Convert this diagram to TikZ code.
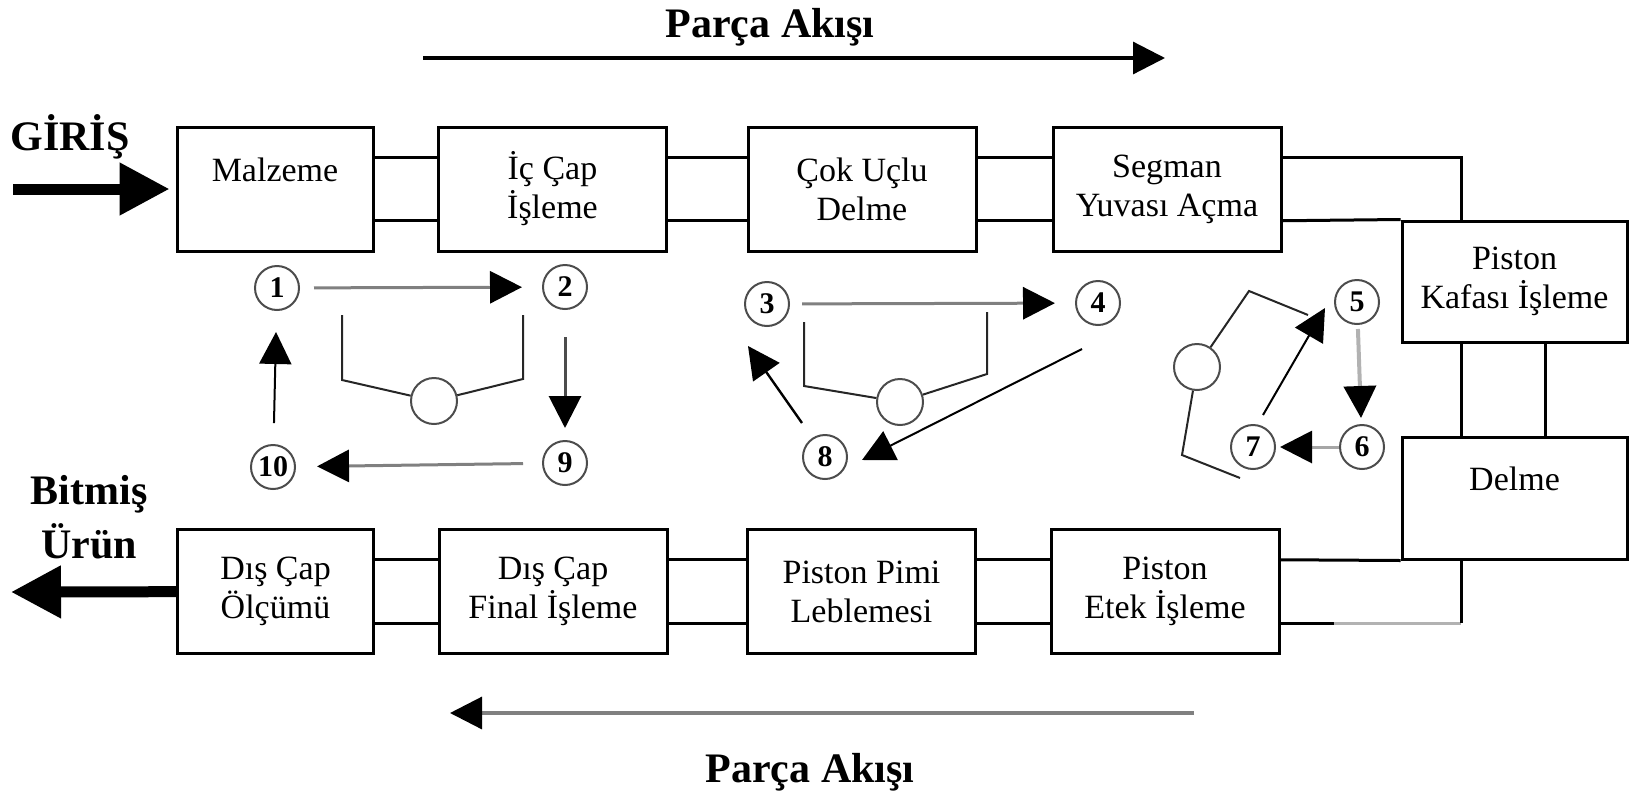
\documentclass[tikz,border=0pt]{standalone}
\usepackage{fontspec}
\setmainfont{Liberation Serif}
\usetikzlibrary{arrows.meta,calc}

\tikzset{
  procbox/.style={draw, line width=1.5pt, minimum width=114pt, minimum height=62pt,
    inner sep=0pt, align=center, font=\fontsize{17}{19.5}\selectfont},
  stn/.style={circle, draw=black!70, line width=1pt, minimum size=22pt, inner sep=0pt,
    font=\fontsize{15}{15}\selectfont\bfseries},
  hub/.style={circle, draw=black!70, line width=1pt, minimum size=23pt, inner sep=0pt},
  link/.style={line width=1.5pt},
  bracket/.style={line width=1pt, black!85},
  flow/.style={line width=1.5pt, gray, -{Triangle[length=16pt,width=16pt,color=black]}},
  bigarrow/.style={line width=5.5pt, -{Triangle[length=25pt,width=25pt]}},
  title/.style={font=\fontsize{21}{27}\selectfont\bfseries, inner sep=0pt},
}

\begin{document}
\begin{tikzpicture}[x=0.5pt, y=-0.5pt]
  \useasboundingbox (0,0) rectangle (1632,793);

  % top row of stations
  \node[procbox, minimum width=98pt] (malz) at (275,189) {Malzeme\\~};
  \node[procbox] (ic)   at (552.5,189) {İç Çap\\İşleme};
  \node[procbox] (cok)  at (862,189)   {Çok Uçlu\\Delme};
  \node[procbox] (seg)  at (1167,189)  {Segman\\Yuvası Açma};
  % right column
  \node[procbox, minimum width=112.5pt, minimum height=60.5pt] (kafa) at (1514.5,281.5) {Piston\\Kafası İşleme};
  \node[procbox, minimum width=112.5pt, minimum height=61pt] (delme) at (1514.5,498) {Delme\\~};
  % bottom row
  \node[procbox, minimum width=98pt] (olc) at (275.5,591.5) {Dış Çap\\Ölçümü};
  \node[procbox] (fin)  at (553,591.5)  {Dış Çap\\Final İşleme};
  \node[procbox] (pim)  at (861.5,591.5) {Piston Pimi\\Leblemesi};
  \node[procbox] (etek) at (1165,591.5) {Piston\\Etek İşleme};

  % double links between neighbouring boxes
  \foreach \a/\b in {malz/ic, ic/cok, cok/seg, olc/fin, fin/pim, pim/etek}
    \foreach \f in {.25,.75}
      \draw[link] ($(\a.north east)!\f!(\a.south east)$) -- ($(\b.north west)!\f!(\b.south west)$);

  % links round the corner on the right
  \coordinate (kt) at ($(kafa.north west)!.267!(kafa.north east)$);
  \draw[link] ($(seg.north east)!.25!(seg.south east)$) -| (kt);
  \draw[link] ($(seg.north east)!.75!(seg.south east)$) -- (kafa.north west);
  \foreach \f in {.267,.636}
    \draw[link] ($(kafa.south west)!\f!(kafa.south east)$) -- ($(delme.north west)!\f!(delme.north east)$);
  \coordinate (db) at ($(delme.south west)!.267!(delme.south east)$);
  \coordinate (eb) at ($(etek.north east)!.75!(etek.south east)$);
  \draw[link] ($(etek.north east)!.25!(etek.south east)$) -- (delme.south west);
  \draw[link] (eb) -- ++(53,0);
  \draw[link, gray!60] ($(eb)+(53,0)$) -- (eb -| db);
  \draw[link] (eb -| db) -- (db);

  % entry and exit
  \node[title, anchor=base] (giris) at (70,150) {GİRİŞ};
  \coordinate (gin) at (13,189);
  \draw[bigarrow, shorten >=3pt] (gin) -- (malz);
  \node[title, align=center] (bitmis) at (89,517) {Bitmiş\\Ürün};
  \coordinate (gout) at (11,592);
  \draw[bigarrow] (olc) -- (gout);

  % part flow arrows
  \node[title, anchor=base] (akis1) at (770,37) {Parça Akışı};
  \coordinate (ft1) at (423,58);
  \coordinate (ft2) at (1165,58);
  \draw[line width=1.6pt, -{Triangle[length=16pt,width=16pt]}] (ft1) -- (ft2);
  \node[title, anchor=base] (akis2) at (810,782) {Parça Akışı};
  \coordinate (fb1) at (1194,713);
  \coordinate (fb2) at (450,713);
  \draw[line width=1.6pt, gray, -{Triangle[length=16pt,width=16pt,color=black]}] (fb1) -- (fb2);

  % loop 1
  \node[stn] (c1)  at (277,288) {1};
  \node[stn] (c2)  at (565,287) {2};
  \node[stn] (c9)  at (565,463) {9};
  \node[stn] (c10) at (273,467) {10};
  \node[hub] (h1)  at (434,401) {};
  \draw[flow, shorten <=7pt, shorten >=10pt] (c1) -- (c2);
  \draw[flow, gray!60!black, shorten <=13.5pt, shorten >=6pt] (c2) -- (c9);
  \draw[flow, shorten <=9.5pt, shorten >=10.5pt] (c9) -- (c10);
  \draw[flow, black, line width=1pt, shorten <=10.5pt, shorten >=10.5pt] (c10) -- (c1);
  \draw[bracket] (342,315) -- (342,380) -- (h1) -- (523,379) -- (523,315);

  % loop 2
  \node[stn] (c3) at (767,304)  {3};
  \node[stn] (c4) at (1098,303) {4};
  \node[stn] (c8) at (825,457)  {8};
  \node[hub] (h2) at (900,402)  {};
  \draw[flow, shorten <=6pt, shorten >=10pt] (c3) -- (c4);
  \draw[flow, black, line width=1pt] ([shift={(-16,46)}]c4.center) -- ([shift={(37,3)}]c8.center);
  \draw[flow, black, line width=1.2pt] ([shift={(-23,-34)}]c8.center) -- ([shift={(-19,42)}]c3.center);
  \draw[bracket] (804,322) -- (804,386) -- (h2) -- (987,374) -- (987,312);

  % loop 3
  \node[stn] (c5) at (1357,302) {5};
  \node[stn] (c6) at (1362,447) {6};
  \node[stn] (c7) at (1253,447) {7};
  \node[hub] (h3) at (1197,367) {};
  \draw[flow, gray!60, line width=2pt, shorten <=2pt, shorten >=3pt] (c5) -- (c6);
  \draw[flow, gray!70, shorten >=2pt] (c6) -- (c7);
  \draw[flow, black, line width=1pt] ([shift={(10,-32)}]c7.center) -- ([shift={(-32,6)}]c5.center);
  \draw[bracket] (1308,315) -- (1249,291) -- (h3) -- (1182,455) -- (1240,478);
\end{tikzpicture}
\end{document}
